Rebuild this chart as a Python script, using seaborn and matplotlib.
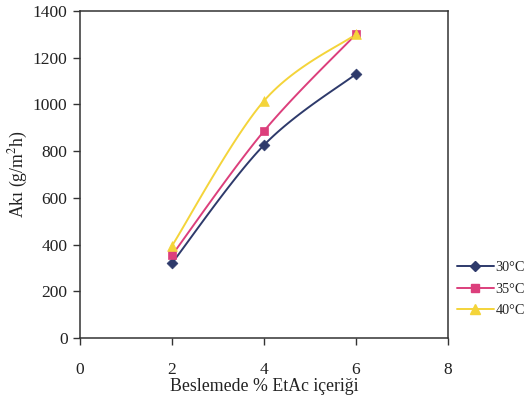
import numpy as np
import pandas as pd
import seaborn as sns
import matplotlib
matplotlib.use("Agg")
import matplotlib.pyplot as plt
from matplotlib.lines import Line2D

# ---- data ----
etac = [2, 4, 6]
flux_30 = [321, 826, 1130]
flux_35 = [355, 886, 1300]
flux_40 = [395, 1015, 1300]
series_labels = ["30°C", "35°C", "40°C"]
x_ticks = [0, 2, 4, 6, 8]
y_ticks = [0, 200, 400, 600, 800, 1000, 1200, 1400]

sns.set_theme(style="white")
plt.rcParams["font.family"] = ["Liberation Serif", "DejaVu Serif"]
plt.rcParams["mathtext.fontset"] = "stix"

colors = ["#2E3A6B", "#DC3F7C", "#F4D43A"]
markers = ["D", "s", "^"]
msizes = [5.5, 6, 7]

df = pd.DataFrame({
    "x": etac * 3,
    "y": flux_30 + flux_35 + flux_40,
    "T": [series_labels[0]] * 3 + [series_labels[1]] * 3 + [series_labels[2]] * 3,
})


def smooth(xs, ys, n=30):
    # Excel-style smoothed line (Catmull-Rom through data points)
    xs = np.asarray(xs, float)
    ys = np.asarray(ys, float)
    P = np.column_stack([xs, ys])
    P = np.vstack([P[0], P, P[-1]])
    out = []
    for i in range(1, len(P) - 2):
        p0, p1, p2, p3 = P[i - 1], P[i], P[i + 1], P[i + 2]
        t = np.linspace(0, 1, n)[:, None]
        pts = 0.5 * ((2 * p1) + (-p0 + p2) * t + (2 * p0 - 5 * p1 + 4 * p2 - p3) * t ** 2
                     + (-p0 + 3 * p1 - 3 * p2 + p3) * t ** 3)
        out.append(pts if i == 1 else pts[1:])
    out = np.vstack(out)
    return out[:, 0], out[:, 1]


fig = plt.figure(figsize=(5.3, 4.05), dpi=100)
ax = fig.add_axes([0.151, 0.165, 0.694, 0.808])

handles = []
for lab, c, m, ms in zip(series_labels, colors, markers, msizes):
    sub = df[df["T"] == lab]
    sx, sy = smooth(sub["x"].values, sub["y"].values)
    ax.plot(sx, sy, color=c, lw=1.4, zorder=2)
    sns.scatterplot(x=sub["x"], y=sub["y"], marker=m, color=c, s=ms ** 2,
                    edgecolor=c, linewidth=0.5, ax=ax, zorder=3, legend=False)
    handles.append(Line2D([0], [0], color=c, lw=1.4, marker=m, markersize=ms,
                          markeredgecolor=c, label=lab))

ax.set_xlim(0, 8)
ax.set_ylim(0, 1400)
ax.set_xticks(x_ticks)
ax.set_yticks(y_ticks)
ax.tick_params(axis="both", direction="out", length=5, width=1, color="#333333",
               labelsize=12.5, labelcolor="#222222", bottom=True, left=True)
ax.tick_params(axis="x", pad=12)
ax.tick_params(axis="y", pad=4)
for s in ax.spines.values():
    s.set_color("#333333")
    s.set_linewidth(1.1)
ax.set_xlabel("Beslemede % EtAc içeriği", fontsize=12.8, color="#222222", labelpad=0)
ax.set_ylabel("Akı (g/m$^2$h)", fontsize=12.8, color="#222222", labelpad=2)

fig.legend(handles=handles, loc="center left", bbox_to_anchor=(0.862, 0.286),
           frameon=False, fontsize=10.3, handlelength=2.6, handletextpad=0.1,
           labelspacing=0.6, borderaxespad=0, borderpad=0)

fig.savefig("out.png", dpi=100)
